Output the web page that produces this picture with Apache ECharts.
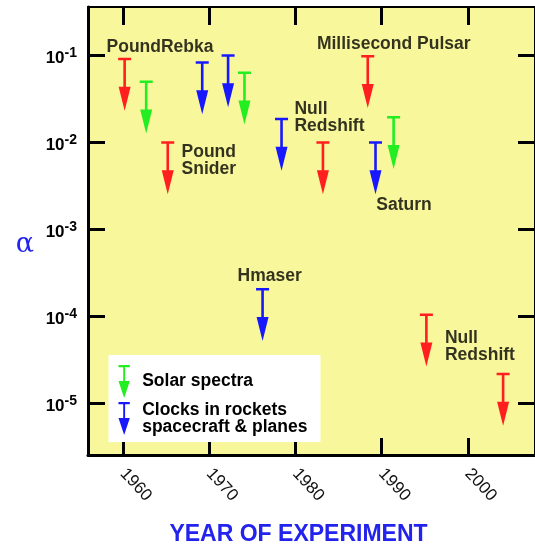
<!DOCTYPE html>
<html>
<head>
<meta charset="utf-8">
<script src="https://cdn.jsdelivr.net/npm/echarts@6/dist/echarts.min.js"></script>
<style>
  html, body { margin: 0; padding: 0; background: #fff; }
  #chart { width: 535px; height: 551px; }
</style>
</head>
<body>
<div id="chart"></div>
<script>
// upper limits on alpha (year, value at the cap of the arrow)
var redYear = [1960.2, 1965.2, 1983.2, 1988.4, 1995.2, 2004.1];
var redLimit = [0.093, 0.0102, 0.0102, 0.1, 1.07e-4, 2.24e-5];
var greenYear = [1962.7, 1974.1, 1991.4];
var greenLimit = [0.051, 0.065, 0.020];
var blueYear = [1969.2, 1972.2, 1978.4, 1989.3, 1976.2];
var blueLimit = [0.085, 0.102, 0.019, 0.0102, 2.1e-4];

// annotations (text, year, value of the text's left-middle point)
var noteText = ['PoundRebka', 'Millisecond Pulsar', 'Null\nRedshift', 'Pound\nSnider', 'Saturn', 'Hmaser', 'Null\nRedshift'];
var noteYear = [1958.1, 1982.5, 1979.9, 1966.8, 1989.4, 1973.3, 1997.35];
var noteValue = [0.125, 0.135, 0.019, 0.0061, 0.0019, 2.85e-4, 4.45e-5];

var yearTicks = [1960, 1970, 1980, 1990, 2000];
var powerTicks = [-5, -4, -3, -2, -1];

var legendNames = ['Solar spectra', 'Clocks in rockets\nspacecraft & planes'];

var arrowPath = 'path://M0,0 L13,0 L13,2.5 L7.8,2.5 L7.8,29 L12.5,29 L6.5,53 L0.5,29 L5.2,29 L5.2,2.5 L0,2.5 Z';
var legendArrow = 'path://M0,0 L12,0 L12,2.5 L7,2.5 L7,17 L12,17 L6,35 L0,17 L5,17 L5,2.5 L0,2.5 Z';

function toPoints(years, vals) {
  return years.map(function (y, i) { return [y, Math.log10(vals[i])]; });
}

function arrowSeries(name, color, years, vals) {
  return {
    name: name,
    type: 'scatter',
    symbol: arrowPath,
    symbolSize: [13, 53],
    symbolOffset: [0, '50%'],
    itemStyle: { color: color, opacity: 1 },
    emphasis: { disabled: true },
    data: toPoints(years, vals),
    z: 5
  };
}

var chart = echarts.init(document.getElementById('chart'));

var xMin = 1955.95, xMax = 2007.8;
var yMin = -5.596, yMax = -0.447;

var option = {
  animation: false,
  grid: {
    left: 88, right: -8, top: 7, bottom: 90.5,
    show: true, backgroundColor: '#f8f79b', borderWidth: 0
  },
  legend: {
    orient: 'vertical',
    left: 108.5, top: 355,
    backgroundColor: '#ffffff',
    padding: [10, 13, 6, 10],
    itemWidth: 14, itemHeight: 33, itemGap: 3,
    selectedMode: false,
    textStyle: {
      fontFamily: 'Liberation Sans', fontWeight: 'bold', fontSize: 17.5,
      lineHeight: 17, color: '#000', padding: [0, 0, 0, 6]
    },
    data: [
      { name: legendNames[0], icon: legendArrow },
      { name: legendNames[1], icon: legendArrow }
    ]
  },
  xAxis: [{
    type: 'value', min: xMin, max: xMax, position: 'bottom',
    name: 'YEAR OF EXPERIMENT', nameLocation: 'middle', nameGap: 68,
    nameTextStyle: {
      fontFamily: 'Liberation Sans', fontWeight: 'bold', fontSize: 23,
      color: '#2323ee', padding: [0, 26, 0, 0]
    },
    axisLine: { lineStyle: { color: '#000', width: 3 } },
    axisTick: { inside: true, length: 17, lineStyle: { color: '#000', width: 3 }, customValues: yearTicks },
    axisLabel: {
      rotate: -47, margin: 16, customValues: yearTicks,
      fontFamily: 'Liberation Sans', fontSize: 17, color: '#111',
      formatter: function (v) { return String(v); }
    },
    splitLine: { show: false }
  }, {
    type: 'value', min: xMin, max: xMax, position: 'top',
    axisLine: { lineStyle: { color: '#000', width: 2 } },
    axisTick: { inside: true, length: 18, lineStyle: { color: '#000', width: 3 }, customValues: yearTicks },
    axisLabel: { show: false },
    splitLine: { show: false }
  }],
  yAxis: [{
    type: 'value', min: yMin, max: yMax, position: 'left',
    name: 'α', nameLocation: 'middle', nameRotate: 0, nameGap: 54,
    nameTextStyle: {
      fontFamily: 'DejaVu Serif', fontSize: 27, color: '#2323ee',
      verticalAlign: 'top'
    },
    axisLine: { lineStyle: { color: '#000', width: 3 } },
    axisTick: { inside: true, length: 17, lineStyle: { color: '#000', width: 3 }, customValues: powerTicks },
    axisLabel: {
      margin: 11, customValues: powerTicks,
      formatter: function (v) { return '{b|10}{s|' + v + '}'; },
      rich: {
        b: { fontFamily: 'Liberation Sans', fontWeight: 'bold', fontSize: 17, color: '#000', padding: [7, 0, 0, 0] },
        s: { fontFamily: 'Liberation Sans', fontWeight: 'bold', fontSize: 14, color: '#000', padding: [0, 0, 4, 0] }
      }
    },
    splitLine: { show: false }
  }, {
    type: 'value', min: yMin, max: yMax, position: 'right',
    axisLine: { lineStyle: { color: '#000', width: 2 } },
    axisTick: { inside: true, length: 17, lineStyle: { color: '#000', width: 3 }, customValues: powerTicks },
    axisLabel: { show: false },
    splitLine: { show: false }
  }],
  series: [
    arrowSeries('red', '#ff1f1f', redYear, redLimit),
    arrowSeries(legendNames[0], '#22ee22', greenYear, greenLimit),
    arrowSeries(legendNames[1], '#1818ff', blueYear, blueLimit),
    {
      name: 'notes',
      type: 'scatter',
      symbolSize: 0,
      silent: true,
      data: noteText.map(function (t, i) {
        return { name: t, value: [noteYear[i], Math.log10(noteValue[i])] };
      }),
      label: {
        show: true,
        position: [0, 0],
        align: 'left',
        verticalAlign: 'middle',
        formatter: function (p) { return p.name; },
        fontFamily: 'Liberation Sans', fontWeight: 'bold', fontSize: 17.5,
        lineHeight: 17, color: '#000'
      },
      z: 6
    }
  ]
};

chart.setOption(option);
</script>
</body>
</html>
